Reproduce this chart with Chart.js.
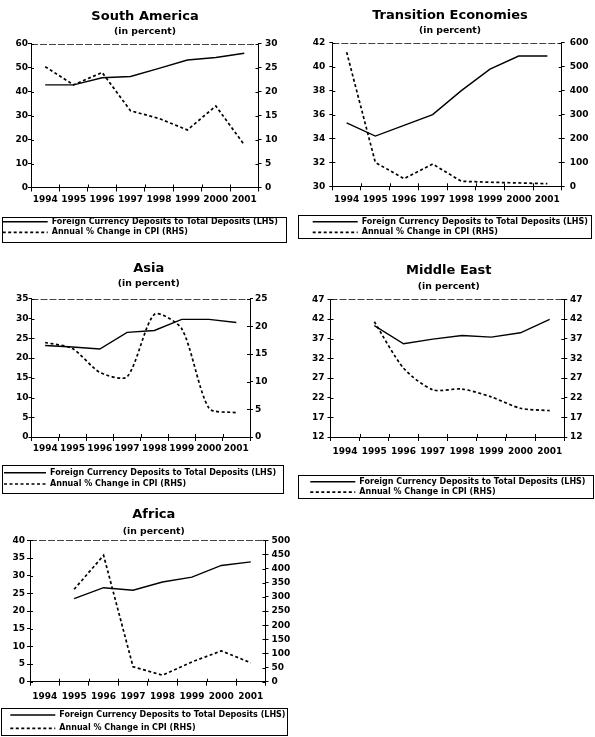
<!DOCTYPE html>
<html><head><meta charset="utf-8">
<script src="https://cdn.jsdelivr.net/npm/chart.js@4.4.1/dist/chart.umd.min.js"></script>
<style>
html,body{margin:0;padding:0;background:#fff;width:595px;height:737px;overflow:hidden;}
canvas{position:absolute;}
</style></head><body>
<canvas id="c1"></canvas><canvas id="c2"></canvas><canvas id="c3"></canvas><canvas id="c4"></canvas><canvas id="c5"></canvas>
<script>
// ---------- data ----------
const years = ['1994','1995','1996','1997','1998','1999','2000','2001'];
const depositsLabel = 'Foreign Currency Deposits to Total Deposits (LHS)';
const cpiLabel = 'Annual % Change in CPI (RHS)';
const subtitleText = '(in percent)';

const southAmericaDeposits = [42.8, 42.8, 45.8, 46.3, 49.7, 53.2, 54.2, 56.0];
const southAmericaCpi      = [25.2, 21.4, 24.0, 16.0, 14.4, 12.0, 17.0, 8.9];

const transitionDeposits = [35.3, 34.2, 35.1, 36.0, 38.0, 39.8, 40.9, 40.9];
const transitionCpi      = [561, 100, 32, 93, 21, 17, 14, 11];

const asiaDeposits = [23.2, 22.8, 22.3, 26.5, 27.0, 29.8, 29.8, 29.0];
const asiaCpi      = [17.1, 16.0, 11.7, 10.9, 22.2, 19.6, 5.2, 4.4];

const middleEastDeposits = [null, 40.3, 35.7, 36.9, 37.8, 37.4, 38.5, 41.9];
const middleEastCpi      = [null, 41.3, 29.5, 24.0, 24.2, 22.2, 19.3, 18.7];

const africaDeposits = [null, 23.5, 26.6, 25.9, 28.2, 29.6, 32.9, 33.9];
const africaCpi      = [null, 327, 447, 53, 23, 70, 109, 67];

// axis ranges [min, max, step]
const saLeftTicks = [0, 60, 10],  saRightTicks = [0, 30, 5];
const teLeftTicks = [30, 42, 2],  teRightTicks = [0, 600, 100];
const asLeftTicks = [0, 35, 5],   asRightTicks = [0, 25, 5];
const meLeftTicks = [12, 47, 5],  meRightTicks = [12, 47, 5];
const afLeftTicks = [0, 40, 5],   afRightTicks = [0, 500, 50];

// ---------- styling / layout ----------
const FAMILY = "'DejaVu Sans', 'Liberation Sans', sans-serif";
Chart.defaults.font.family = FAMILY;
Chart.defaults.color = '#000';

const decor = {
  id: 'decor',
  afterDraw(chart, args, o) {
    const {ctx, chartArea: a, scales} = chart;
    ctx.save();
    // top frame line (dashed grey)
    ctx.strokeStyle = '#444'; ctx.lineWidth = 1; ctx.setLineDash([7, 2]);
    const yt = Math.round(a.top) + 0.5;
    ctx.beginPath(); ctx.moveTo(a.left, yt); ctx.lineTo(a.right, yt); ctx.stroke();
    ctx.setLineDash([]);
    ctx.strokeStyle = '#000';
    const k = 3;
    ctx.beginPath();
    const xs = scales.x, n = xs.getLabels().length;
    for (let i = 1; i < n; i++) {
      const px = Math.round((xs.getPixelForValue(i - 1) + xs.getPixelForValue(i)) / 2) + 0.5;
      ctx.moveTo(px, a.bottom); ctx.lineTo(px, a.bottom - k);
    }
    scales.y.ticks.forEach(t => {
      const py = Math.round(scales.y.getPixelForValue(t.value)) + 0.5;
      ctx.moveTo(a.left, py); ctx.lineTo(a.left + k, py);
    });
    scales.y1.ticks.forEach(t => {
      const py = Math.round(scales.y1.getPixelForValue(t.value)) + 0.5;
      ctx.moveTo(a.right, py); ctx.lineTo(a.right - k, py);
    });
    ctx.stroke();
    // legend frame
    const b = o.box;
    ctx.lineWidth = 1;
    ctx.strokeRect(Math.round(b[0]) + 0.5, Math.round(b[1]) + 0.5, Math.round(b[2] - b[0]), Math.round(b[3] - b[1]));
    ctx.restore();
  }
};

function legendLabels(chart) {
  const items = Chart.defaults.plugins.legend.labels.generateLabels(chart);
  items.forEach(it => {
    const ds = chart.data.datasets[it.datasetIndex];
    it.lineDash = ds.borderDash || [];
    it.lineWidth = ds.borderWidth;
    it.strokeStyle = ds.borderColor;
  });
  return items;
}

function makePanel(id, pd) {
  const g = pd.geom;
  const p = g.rowGap - 8;
  const legendLeft = g.textStart - g.boxW - 4 - p;
  const x0 = g.x0, W = g.W;
  const padL = legendLeft - x0;
  const padR = W + padL - 2 * (g.tc - x0);
  const wL = g.L - legendLeft;
  const wR = 2 * g.tc - legendLeft - g.R;
  const y0 = Math.floor(g.ty - 8.8);
  const tTop = g.ty - 7.8 - y0;
  const sTop = g.sy - g.ty - 13.2;
  const sBot = g.T - g.sy - 5.4;
  const legTop = g.row1 - p - 4;
  const legH = 16 + 2 * p - 0.5;
  const y1 = Math.ceil(Math.max(g.box[3] + 1.5, legTop + legH));
  const padB = y1 - (legTop + legH);
  const H = y1 - y0;
  const xH = legTop - g.B;
  const xTickPad = g.xly - g.B - 5.4 - 4;

  const cv = document.getElementById(id);
  cv.width = W; cv.height = H;
  cv.style.left = x0 + 'px'; cv.style.top = y0 + 'px';
  cv.style.width = W + 'px'; cv.style.height = H + 'px';

  const tickFont = {family: FAMILY, weight: 'bold', size: 9, lineHeight: 1.2};
  const yAxis = (pos, t, pad, w) => ({
    position: pos, min: t[0], max: t[1],
    ticks: {stepSize: t[2], padding: pad, color: '#000', font: tickFont, autoSkip: false},
    grid: {drawOnChartArea: false, drawTicks: true, tickLength: 3, color: '#000'},
    border: {display: true, color: '#000', width: 1},
    afterFit: s => { s.width = w; }
  });

  new Chart(cv, {
    type: 'line',
    data: {
      labels: years,
      datasets: [
        {label: depositsLabel, data: pd.deposits, yAxisID: 'y', borderColor: '#000', backgroundColor: '#000',
         borderWidth: 1.4, pointRadius: 0, tension: 0, fill: false},
        {label: cpiLabel, data: pd.cpi, yAxisID: 'y1', borderColor: '#000', backgroundColor: '#000',
         borderWidth: 1.7, borderDash: [3, 2.5], pointRadius: 0, tension: pd.smooth, fill: false}
      ]
    },
    options: {
      responsive: false, animation: false, devicePixelRatio: 1, events: [],
      layout: {padding: {left: padL, right: padR, top: 0, bottom: padB}},
      scales: {
        x: {
          type: 'category', offset: true,
          grid: {offset: true, drawOnChartArea: false, drawTicks: true, tickLength: 4, color: '#000'},
          border: {display: true, color: '#000', width: 1},
          ticks: {autoSkip: false, maxRotation: 0, minRotation: 0, padding: xTickPad, color: '#000', font: tickFont},
          afterFit: s => { s.height = xH; }
        },
        y: yAxis('left', pd.leftTicks, g.lpad, wL),
        y1: yAxis('right', pd.rightTicks, g.rpad, wR)
      },
      plugins: {
        title: {display: true, text: pd.title, color: '#000',
          font: {family: FAMILY, weight: 'bold', size: 13, lineHeight: 1.2}, padding: {top: tTop, bottom: 0}},
        subtitle: {display: true, text: subtitleText, color: '#000',
          font: {family: FAMILY, weight: 'bold', size: 9.3, lineHeight: 1.2}, padding: {top: sTop, bottom: sBot}},
        legend: {display: true, position: 'bottom', align: 'start', maxHeight: legH,
          labels: {usePointStyle: true, pointStyle: 'line', pointStyleWidth: g.boxW, padding: p, color: '#000',
            generateLabels: legendLabels,
            font: {family: FAMILY, weight: 'bold', size: 8, lineHeight: 1.2}}},
        tooltip: {enabled: false},
        decor: {box: [g.box[0] - x0, g.box[1] - y0, g.box[2] - x0, g.box[3] - y0]}
      }
    },
    plugins: [decor]
  });
}

makePanel('c1', {title: 'South America', deposits: southAmericaDeposits, cpi: southAmericaCpi,
  leftTicks: saLeftTicks, rightTicks: saRightTicks, smooth: 0,
  geom: {x0: 0, W: 292, L: 31, R: 258.5, T: 43.3, B: 187.5, tc: 145, ty: 17, sy: 31, xly: 200,
    textStart: 51.7, boxW: 45, row1: 221.7, rowGap: 10.6, box: [2, 216.5, 286, 241], lpad: 0, rpad: 3.5}});

makePanel('c2', {title: 'Transition Economies', deposits: transitionDeposits, cpi: transitionCpi,
  leftTicks: teLeftTicks, rightTicks: teRightTicks, smooth: 0,
  geom: {x0: 298, W: 297, L: 332.3, R: 561.7, T: 42.5, B: 186.3, tc: 450, ty: 16, sy: 30, xly: 200,
    textStart: 361.7, boxW: 45, row1: 221.7, rowGap: 10.6, box: [298, 214.5, 591, 237.5], lpad: 4, rpad: 5}});

makePanel('c3', {title: 'Asia', deposits: asiaDeposits, cpi: asiaCpi,
  leftTicks: asLeftTicks, rightTicks: asRightTicks, smooth: 0.25,
  geom: {x0: 0, W: 297, L: 31.5, R: 250, T: 298.5, B: 437, tc: 148.7, ty: 269, sy: 283.3, xly: 449,
    textStart: 50, boxW: 42, row1: 472.7, rowGap: 11.3, box: [2, 465, 283, 493], lpad: 0, rpad: 2}});

makePanel('c4', {title: 'Middle East', deposits: middleEastDeposits, cpi: middleEastCpi,
  leftTicks: meLeftTicks, rightTicks: meRightTicks, smooth: 0.25,
  geom: {x0: 298, W: 297, L: 330.5, R: 564.3, T: 299, B: 437, tc: 448.8, ty: 271, sy: 286.7, xly: 451.7,
    textStart: 359.3, boxW: 45, row1: 481.7, rowGap: 10.5, box: [298, 475, 593, 498], lpad: 3, rpad: 2.7}});

makePanel('c5', {title: 'Africa', deposits: africaDeposits, cpi: africaCpi,
  leftTicks: afLeftTicks, rightTicks: afRightTicks, smooth: 0,
  geom: {x0: 0, W: 305, L: 30, R: 265.5, T: 540, B: 681.7, tc: 153.8, ty: 515, sy: 531.7, xly: 696.7,
    textStart: 59.3, boxW: 45, row1: 715, rowGap: 13.3, box: [1, 708.3, 287.3, 735.5], lpad: 2, rpad: 3}});
</script>
</body></html>
